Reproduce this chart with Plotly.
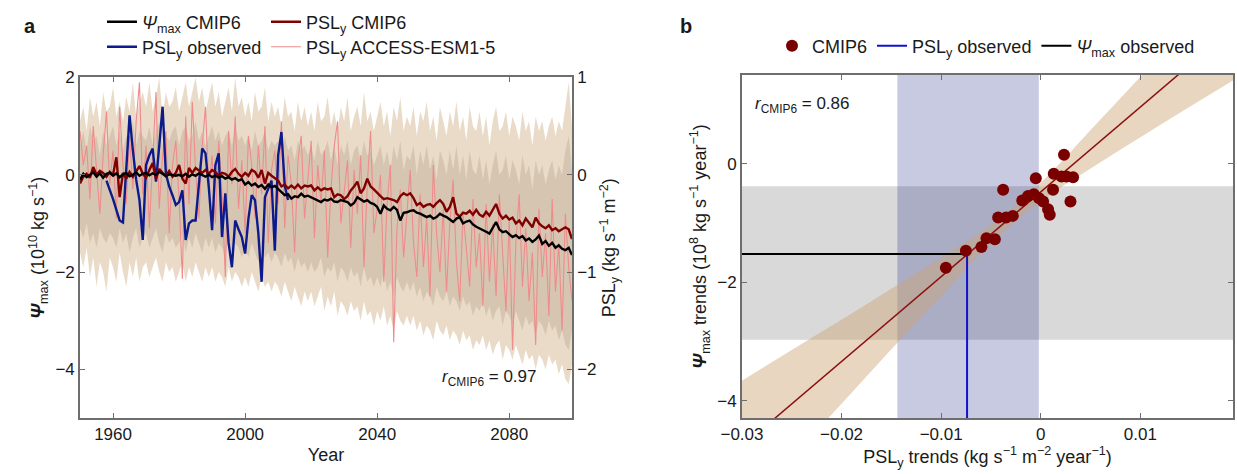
import plotly.graph_objects as go

# ---------------- panel a data ----------------
years = list(range(1950, 2100))

# Psi_max CMIP6 multi-model mean (left axis, 10^10 kg s-1)
psi_cmip6 = [
    -0.10, 0.02, -0.05, 0.00, 0.05, -0.04, 0.03, -0.06, 0.02, 0.04,
    -0.02, 0.03, -0.05, 0.01, 0.04, -0.03, 0.00, 0.05, -0.02, 0.02,
    0.04, -0.01, 0.03, 0.00, 0.06, 0.02, -0.03, 0.01, 0.00, -0.02,
    0.00, -0.03, 0.02, -0.04, 0.01, -0.02, 0.03, -0.01, -0.04, 0.00,
    -0.05, -0.02, -0.06, -0.03, -0.08, -0.05, -0.10, -0.07, -0.12, -0.09,
    -0.20, -0.15, -0.22, -0.18, -0.25, -0.21, -0.29, -0.20, -0.26, -0.23,
    -0.30, -0.35, -0.42, -0.40, -0.49, -0.44, -0.46, -0.39, -0.45, -0.43,
    -0.46, -0.50, -0.53, -0.56, -0.51, -0.53, -0.49, -0.55, -0.56, -0.52,
    -0.54, -0.56, -0.63, -0.58, -0.46, -0.51, -0.55, -0.52, -0.58, -0.60,
    -0.66, -0.80, -0.63, -0.70, -0.73, -0.66, -0.72, -0.94, -0.78, -0.77,
    -0.74, -0.73, -0.78, -0.80, -0.83, -0.87, -0.84, -0.90, -0.87, -0.80,
    -0.84, -0.87, -0.92, -0.97, -0.90, -0.87, -1.00, -0.96, -0.94, -1.02,
    -1.07, -1.10, -1.14, -1.17, -1.21, -1.10, -0.97, -1.12, -1.18, -1.16,
    -1.22, -1.28, -1.24, -1.30, -1.26, -1.35, -1.31, -1.38, -1.33, -1.25,
    -1.42, -1.36, -1.46, -1.40, -1.50, -1.45, -1.52, -1.55, -1.50, -1.65,
]

# PSL_y CMIP6 multi-model mean (right axis, kg s-1 m-2)
psl_cmip6 = [
    -0.09, -0.02, 0.01, -0.03, 0.08, 0.00, 0.04, 0.02, -0.02, 0.03,
    0.00, 0.18, -0.23, 0.02, -0.04, 0.03, -0.02, 0.04, 0.09, 0.01,
    -0.03, 0.05, 0.12, -0.04, 0.06, 0.02, -0.01, 0.04, -0.02, 0.02,
    0.10, -0.04, -0.09, 0.07, 0.02, 0.07, 0.04, 0.02, 0.05, 0.01,
    0.05, 0.03, -0.01, 0.02, 0.01, -0.02, 0.03, 0.06, 0.01, -0.02,
    0.02, -0.01, 0.05, 0.03, -0.03, 0.05, -0.09, 0.02, -0.01, -0.04,
    -0.06, -0.12, -0.10, -0.14, -0.11, -0.14, -0.10, -0.14, -0.11, -0.12,
    -0.11, -0.16, -0.13, -0.16, -0.14, -0.15, -0.14, -0.23, -0.20, -0.21,
    -0.25, -0.22, -0.16, -0.12, -0.07, -0.19, -0.14, -0.04, -0.12, -0.15,
    -0.19, -0.22, -0.25, -0.24, -0.25, -0.26, -0.28, -0.22, -0.19, -0.21,
    -0.19, -0.24, -0.31, -0.29, -0.33, -0.31, -0.30, -0.33, -0.29, -0.26,
    -0.30, -0.38, -0.33, -0.23, -0.40, -0.43, -0.39, -0.40, -0.37, -0.41,
    -0.36, -0.41, -0.43, -0.38, -0.42, -0.36, -0.30, -0.40, -0.45, -0.42,
    -0.46, -0.44, -0.50, -0.47, -0.52, -0.45, -0.49, -0.54, -0.44, -0.50,
    -0.53, -0.55, -0.52, -0.57, -0.55, -0.58, -0.56, -0.54, -0.56, -0.66,
]

# PSL_y ACCESS-ESM1-5 single member
psl_access = [
    0.45, 0.10, 0.30, -0.25, 0.50, 0.05, -0.40, 0.20, 0.65, -0.10,
    0.25, -0.45, 0.70, 0.10, -0.30, 0.40, -0.15, 0.55, 0.95, -0.20,
    0.30, -0.55, 0.15, 0.85, -0.35, 0.20, 0.45, -0.60, 0.10, 0.35,
    -0.25, -1.07, 0.60, -0.30, 0.75, 0.05, -0.45, 0.30, 0.70, -0.15,
    0.20, -0.50, 0.35, -0.20, -1.05, 0.45, -0.10, 0.60, -0.35, 0.15,
    -0.60, 0.40, 0.10, -0.45, 0.30, -0.20, 0.50, -0.70, 0.05, 0.25,
    -0.30, 0.55, -0.55, 0.20, -0.10, -0.80, 0.15, 0.40, -0.45, -0.05,
    0.35, -0.65, 0.10, -0.30, 0.25, -0.85, -0.15, 0.30, 0.55, -0.50,
    -0.20, 0.15, -0.75, 0.05, -0.40, 0.20, -0.95, -0.10, 0.45, -0.60,
    -0.35, 0.00, -1.10, -0.30, 0.10, -1.72, -0.55, -0.15, -0.85, -0.40,
    0.05, -0.70, -1.05, -0.20, -0.95, -0.45, -1.25, 0.10, -0.60, -1.00,
    -0.35, -1.20, -0.50, -0.05, -0.90, -1.30, -0.40, -0.75, -1.15, -0.25,
    -0.95, -0.60, -1.35, -0.30, -1.10, -0.50, -1.25, -0.20, -0.85, -1.40,
    -0.45, -1.80, -0.70, -0.20, -1.15, -0.55, -1.30, -0.80, -1.75, -0.35,
    -1.05, -0.60, -1.45, -0.25, -1.20, -0.70, -1.60, -0.40, -0.95, -1.30,
]

# CMIP6 spread (outer and inner ranges, right-axis units)
outer_hi = [
    0.55, 0.70, 0.45, 0.80, 0.60, 0.75, 0.50, 0.85, 0.65, 0.70,
    0.90, 0.60, 0.75, 0.55, 0.80, 0.65, 0.95, 0.60, 0.75, 0.85,
    0.70, 0.95, 0.65, 0.80, 1.00, 0.60, 0.85, 0.70, 0.75, 0.90,
    0.65, 0.80, 0.95, 0.70, 0.85, 1.00, 0.75, 0.90, 0.65, 0.80,
    0.95, 0.70, 0.85, 0.60, 0.75, 0.90, 0.65, 1.00, 0.70, 0.80,
    0.60, 0.75, 0.55, 0.85, 0.65, 0.70, 0.90, 0.55, 0.75, 0.60,
    0.70, 0.50, 0.80, 0.60, 0.65, 0.45, 0.75, 0.55, 0.70, 0.50,
    0.65, 0.45, 0.75, 0.55, 0.60, 0.80, 0.50, 0.65, 0.45, 0.70,
    0.55, 0.80, 0.45, 0.60, 0.70, 0.50, 0.85, 0.55, 0.65, 0.45,
    0.60, 0.75, 0.50, 0.65, 0.40, 0.70, 0.55, 0.80, 0.45, 0.60,
    0.50, 0.70, 0.40, 0.65, 0.55, 0.75, 0.45, 0.60, 0.35, 0.70,
    0.55, 0.40, 0.65, 0.50, 0.75, 0.45, 0.60, 0.35, 0.70, 0.50,
    0.45, 0.65, 0.40, 0.60, 0.30, 0.55, 0.70, 0.45, 0.50, 0.65,
    0.40, 0.60, 0.50, 0.35, 0.65, 0.45, 0.55, 0.30, 0.60, 0.45,
    0.55, 0.35, 0.50, 0.60, 0.40, 0.55, 0.45, 0.70, 0.95, 0.50,
]
inner_hi = [
    0.30, 0.45, 0.25, 0.50, 0.35, 0.40, 0.20, 0.45, 0.30, 0.40,
    0.50, 0.30, 0.45, 0.25, 0.40, 0.35, 0.55, 0.30, 0.45, 0.40,
    0.35, 0.50, 0.30, 0.45, 0.55, 0.30, 0.40, 0.35, 0.45, 0.50,
    0.30, 0.45, 0.50, 0.35, 0.40, 0.55, 0.35, 0.45, 0.30, 0.40,
    0.50, 0.35, 0.45, 0.30, 0.40, 0.45, 0.30, 0.50, 0.35, 0.40,
    0.30, 0.40, 0.25, 0.45, 0.30, 0.35, 0.45, 0.25, 0.35, 0.30,
    0.35, 0.20, 0.40, 0.25, 0.30, 0.15, 0.35, 0.25, 0.30, 0.20,
    0.30, 0.15, 0.35, 0.20, 0.25, 0.35, 0.15, 0.30, 0.10, 0.30,
    0.20, 0.35, 0.10, 0.25, 0.30, 0.15, 0.35, 0.20, 0.25, 0.10,
    0.20, 0.30, 0.10, 0.25, 0.05, 0.30, 0.15, 0.35, 0.05, 0.20,
    0.15, 0.30, 0.00, 0.25, 0.10, 0.30, 0.05, 0.20, -0.05, 0.25,
    0.15, 0.00, 0.25, 0.05, 0.30, 0.00, 0.20, -0.05, 0.25, 0.05,
    0.00, 0.20, -0.05, 0.15, -0.10, 0.10, 0.25, 0.00, 0.05, 0.20,
    -0.05, 0.15, 0.05, -0.10, 0.20, 0.00, 0.10, -0.15, 0.15, 0.00,
    0.10, -0.10, 0.05, 0.15, -0.05, 0.10, 0.00, 0.25, 0.40, 0.05,
]
inner_lo = [
    -0.55, -0.65, -0.50, -0.70, -0.60, -0.75, -0.55, -0.65, -0.70, -0.60,
    -0.65, -0.75, -0.55, -0.70, -0.60, -0.80, -0.65, -0.55, -0.75, -0.65,
    -0.60, -0.75, -0.65, -0.55, -0.70, -0.80, -0.60, -0.70, -0.65, -0.75,
    -0.70, -0.60, -0.80, -0.65, -0.75, -0.60, -0.70, -0.80, -0.65, -0.75,
    -0.65, -0.80, -0.70, -0.75, -0.85, -0.65, -0.80, -0.70, -0.75, -0.85,
    -0.75, -0.85, -0.70, -0.80, -0.90, -0.75, -0.85, -0.80, -0.90, -0.80,
    -0.85, -0.95, -0.80, -0.90, -0.85, -1.00, -0.85, -0.95, -0.90, -1.00,
    -0.90, -1.00, -0.95, -0.85, -1.05, -0.95, -1.00, -0.90, -1.10, -0.95,
    -1.00, -1.10, -0.95, -1.05, -1.00, -1.15, -0.95, -1.10, -1.05, -1.15,
    -1.05, -1.15, -1.00, -1.20, -1.10, -1.25, -1.05, -1.15, -1.20, -1.10,
    -1.20, -1.10, -1.25, -1.15, -1.30, -1.20, -1.25, -1.35, -1.15, -1.25,
    -1.30, -1.20, -1.35, -1.25, -1.30, -1.40, -1.25, -1.35, -1.30, -1.45,
    -1.35, -1.40, -1.30, -1.45, -1.35, -1.50, -1.40, -1.35, -1.55, -1.40,
    -1.45, -1.55, -1.40, -1.50, -1.60, -1.45, -1.55, -1.50, -1.65, -1.50,
    -1.55, -1.65, -1.50, -1.60, -1.55, -1.70, -1.60, -1.75, -1.80, -1.60,
]
outer_lo = [
    -0.80, -0.95, -0.75, -1.05, -0.85, -1.15, -0.90, -1.00, -1.20, -0.85,
    -0.95, -1.10, -0.80, -1.00, -1.15, -0.90, -1.05, -0.85, -1.10, -0.95,
    -0.90, -1.05, -0.95, -0.85, -1.00, -1.10, -0.90, -1.00, -0.95, -1.10,
    -1.00, -0.90, -1.10, -0.95, -1.05, -0.90, -1.00, -1.10, -0.95, -1.05,
    -0.95, -1.10, -1.00, -1.05, -1.15, -0.95, -1.10, -1.00, -1.05, -1.15,
    -1.05, -1.15, -1.00, -1.10, -1.20, -1.05, -1.15, -1.10, -1.20, -1.10,
    -1.15, -1.25, -1.10, -1.20, -1.30, -1.15, -1.25, -1.35, -1.20, -1.30,
    -1.20, -1.35, -1.25, -1.15, -1.40, -1.25, -1.35, -1.20, -1.45, -1.30,
    -1.35, -1.45, -1.30, -1.40, -1.35, -1.50, -1.30, -1.45, -1.40, -1.55,
    -1.40, -1.50, -1.35, -1.55, -1.45, -1.60, -1.40, -1.50, -1.55, -1.45,
    -1.55, -1.45, -1.60, -1.50, -1.65, -1.55, -1.60, -1.70, -1.50, -1.60,
    -1.65, -1.55, -1.70, -1.60, -1.65, -1.75, -1.60, -1.70, -1.65, -1.80,
    -1.70, -1.75, -1.65, -1.80, -1.70, -1.85, -1.75, -1.70, -1.90, -1.75,
    -1.80, -1.90, -1.75, -1.85, -1.95, -1.80, -1.90, -1.85, -2.00, -1.85,
    -1.90, -2.00, -1.85, -1.95, -1.90, -2.05, -1.95, -2.10, -2.15, -1.95,
]

# observed PSL_y (right axis)
obs_years = list(range(1958, 2014))
psl_observed = [
    -0.06, -0.15, -0.25, -0.36, -0.47, -0.49, 0.05, 0.61, 0.25, -0.05,
    -0.26, -0.67, 0.10, 0.20, 0.27, -0.07, 0.30, 0.70, 0.01, -0.12,
    -0.21, -0.31, -0.28, -0.16, -0.67, -0.50, -0.47, -0.47, -0.10, 0.27,
    0.22, -0.13, -0.57, 0.10, 0.22, -0.64, -0.19, -0.70, -0.95, -0.47,
    -0.56, -0.64, -0.81, -0.45, -0.21, -0.26, -0.60, -1.10, -0.23, -0.15,
    -0.06, -0.78, 0.20, 0.44, -0.11, -0.26,
]

# ---------------- panel b data ----------------
cmip6_psl_trend = [
    -0.00953, -0.00752, -0.00596, -0.00545, -0.00461, -0.00428, -0.00348, -0.00281,
    -0.00378, -0.00186, -0.00128, -0.00070, -0.00050, -0.00017, 0.00023, 0.00073,
    0.00090, 0.00123, 0.00130, 0.00208, 0.00258, 0.00324, 0.00233, 0.00298,
]
cmip6_psi_trend = [
    -1.752, -1.465, -1.402, -1.255, -1.272, -0.904, -0.904, -0.878,
    -0.439, -0.617, -0.541, -0.515, -0.242, -0.580, -0.637, -0.766,
    -0.861, -0.439, -0.169, -0.214, -0.214, -0.225, 0.152, -0.637,
]
fit_slope = 143.2
fit_intercept = -0.472
band_x = [-0.03, -0.025, -0.02, -0.015, -0.01, -0.005, 0.0, 0.005, 0.01, 0.015, 0.02]
band_lo = [-5.88, -4.96, -4.05, -3.13, -2.23, -1.34, -0.63, -0.08, 0.45, 0.97, 1.48]
band_hi = [-3.66, -3.14, -2.63, -2.11, -1.58, -1.03, -0.32, 0.57, 1.47, 2.39, 3.30]

psl_obs_trend = -0.0074
psl_obs_range = [-0.0144, -0.0002]
psi_obs_trend = -1.52
psi_obs_range = [-2.97, -0.38]

xb_range = [-0.03, 0.0193]
yb_range = [-4.29, 1.50]

FONT = "Liberation Sans, Arial, Helvetica, sans-serif"
BEIGE_OUT = "#e9dbc8"
BEIGE_IN = "#d6c6b1"
DARKRED = "#800000"
BLUE = "#0d1a8c"
PINK = "#ee8c8c"

fig = go.Figure()

# ---- panel a ----
fig.add_trace(go.Scatter(x=years, y=outer_lo, yaxis="y2", mode="lines", line=dict(width=0),
                         showlegend=False, hoverinfo="skip"))
fig.add_trace(go.Scatter(x=years, y=outer_hi, yaxis="y2", mode="lines", line=dict(width=0),
                         fill="tonexty", fillcolor=BEIGE_OUT, showlegend=False, hoverinfo="skip"))
fig.add_trace(go.Scatter(x=years, y=inner_lo, yaxis="y2", mode="lines", line=dict(width=0),
                         showlegend=False, hoverinfo="skip"))
fig.add_trace(go.Scatter(x=years, y=inner_hi, yaxis="y2", mode="lines", line=dict(width=0),
                         fill="tonexty", fillcolor=BEIGE_IN, showlegend=False, hoverinfo="skip"))

fig.add_trace(go.Scatter(x=years, y=psl_access, yaxis="y2", mode="lines",
                         line=dict(color=PINK, width=1.1),
                         name="PSL<sub>y</sub> ACCESS-ESM1-5", legend="legend4"))
fig.add_trace(go.Scatter(x=obs_years, y=psl_observed, yaxis="y2", mode="lines",
                         line=dict(color=BLUE, width=2.4),
                         name="PSL<sub>y</sub> observed", legend="legend3"))
fig.add_trace(go.Scatter(x=years, y=psl_cmip6, yaxis="y2", mode="lines",
                         line=dict(color=DARKRED, width=2.4),
                         name="PSL<sub>y</sub> CMIP6", legend="legend2"))
fig.add_trace(go.Scatter(x=years, y=psi_cmip6, yaxis="y", mode="lines",
                         line=dict(color="black", width=2.4),
                         name="<i>Ψ</i><sub>max</sub> CMIP6", legend="legend"))

# ---- panel b ----
fig.add_trace(go.Scatter(x=band_x, y=band_lo, xaxis="x2", yaxis="y3", mode="lines",
                         line=dict(width=0, shape="spline"), showlegend=False, hoverinfo="skip"))
fig.add_trace(go.Scatter(x=band_x, y=band_hi, xaxis="x2", yaxis="y3", mode="lines",
                         line=dict(width=0, shape="spline"), fill="tonexty",
                         fillcolor="rgba(205,165,115,0.45)", showlegend=False, hoverinfo="skip"))
fit_x = [xb_range[0], band_x[-1]]
fit_y = [fit_intercept + fit_slope * v for v in fit_x]
fig.add_trace(go.Scatter(x=fit_x, y=fit_y, xaxis="x2", yaxis="y3", mode="lines",
                         line=dict(color="#8b1010", width=1.5), showlegend=False))
fig.add_trace(go.Scatter(x=[psl_obs_trend, psl_obs_trend], y=[yb_range[0], psi_obs_trend],
                         xaxis="x2", yaxis="y3", mode="lines", line=dict(color="#1010d0", width=2),
                         name="PSL<sub>y</sub> observed", legend="legend5", legendrank=2))
fig.add_trace(go.Scatter(x=[xb_range[0], psl_obs_trend], y=[psi_obs_trend, psi_obs_trend],
                         xaxis="x2", yaxis="y3", mode="lines", line=dict(color="black", width=2),
                         name="<i>Ψ</i><sub>max</sub> observed", legend="legend5", legendrank=3))
fig.add_trace(go.Scatter(x=cmip6_psl_trend, y=cmip6_psi_trend, xaxis="x2", yaxis="y3",
                         mode="markers", marker=dict(color="#7a0000", size=12),
                         name="CMIP6", legend="legend5", legendrank=1))

# observational ranges as background shapes
fig.add_shape(type="rect", xref="x2 domain", yref="y3", x0=0, x1=1,
              y0=psi_obs_range[0], y1=psi_obs_range[1],
              fillcolor="#d9d9d9", line=dict(width=0), layer="below")
fig.add_shape(type="rect", xref="x2", yref="y3 domain", x0=psl_obs_range[0], x1=psl_obs_range[1],
              y0=0, y1=1, fillcolor="rgba(20,30,130,0.234)", line=dict(width=0), layer="below")

axis_style = dict(showline=True, linecolor="#6e6e6e", linewidth=1.6, ticks="inside",
                  ticklen=5, tickwidth=1.2, tickcolor="#6e6e6e", showgrid=False,
                  zeroline=False, tickfont=dict(size=17, color="#1a1a1a"), automargin=False)
title_font = dict(size=18, color="#1a1a1a")


def one_legend(x_px, y_px):
    return dict(orientation="h", x=x_px / 1237, y=1 - y_px / 474, xanchor="left",
                yanchor="middle", itemwidth=30, font=dict(size=18),
                bgcolor="rgba(0,0,0,0)", traceorder="normal")


fig.update_layout(
    width=1237, height=474, autosize=False,
    margin=dict(l=0, r=0, t=0, b=0),
    template="none",
    plot_bgcolor="white", paper_bgcolor="white",
    font=dict(family=FONT, size=17, color="#1a1a1a"),
    xaxis=dict(axis_style, domain=[0.0647, 0.4624], range=[1950, 2099], mirror="ticks",
               tickvals=[1960, 2000, 2040, 2080], anchor="y2",
               title=dict(text="Year", font=title_font, standoff=5)),
    yaxis2=dict(axis_style, domain=[0.1181, 0.8365], range=[-2.5, 1], side="right",
                anchor="x", tickvals=[-2, -1, 0, 1],
                title=dict(text="PSL<sub>y</sub> (kg s<sup>−1</sup> m<sup>−2</sup>)",
                           font=title_font, standoff=5)),
    yaxis=dict(axis_style, range=[-5, 2], overlaying="y2", side="left", anchor="x",
               tickvals=[-4, -2, 0, 2],
               title=dict(text="<b><i>Ψ</i></b><sub>max</sub> (10<sup>10</sup> kg s<sup>−1</sup>)",
                          font=title_font, standoff=6)),
    xaxis2=dict(axis_style, domain=[0.5998, 0.9968], range=xb_range, mirror="ticks",
                tickvals=[-0.03, -0.02, -0.01, 0, 0.01], anchor="y3",
                title=dict(text="PSL<sub>y</sub> trends (kg s<sup>−1</sup> m<sup>−2</sup> year<sup>−1</sup>)",
                           font=title_font, standoff=5)),
    yaxis3=dict(axis_style, domain=[0.1181, 0.8418], range=yb_range, mirror="ticks",
                tickvals=[-4, -2, 0], anchor="x2",
                title=dict(text="<b><i>Ψ</i></b><sub>max</sub> trends (10<sup>8</sup> kg s<sup>−1</sup> year<sup>−1</sup>)",
                           font=title_font, standoff=6)),
    legend=one_legend(102, 22),
    legend2=one_legend(266, 22),
    legend3=one_legend(102, 47),
    legend4=one_legend(266, 47),
    legend5=one_legend(772, 46),
    annotations=[
        dict(text="<b>a</b>", x=22 / 1237, y=1 - 13 / 474, xref="paper", yref="paper",
             showarrow=False, font=dict(size=20)),
        dict(text="<b>b</b>", x=686 / 1237, y=1 - 13 / 474, xref="paper", yref="paper",
             showarrow=False, font=dict(size=20)),
        dict(text="<i>r</i><sub>CMIP6</sub> = 0.97", x=0.395, y=0.175, xref="paper", yref="paper",
             showarrow=False, font=dict(size=17)),
        dict(text="<i>r</i><sub>CMIP6</sub> = 0.86", x=0.609, y=0.805, xref="paper", yref="paper",
             xanchor="left", showarrow=False, font=dict(size=17)),
    ],
)

fig.write_html("out.html", config={"displayModeBar": False},
               post_script="document.body.style.margin='0';")
